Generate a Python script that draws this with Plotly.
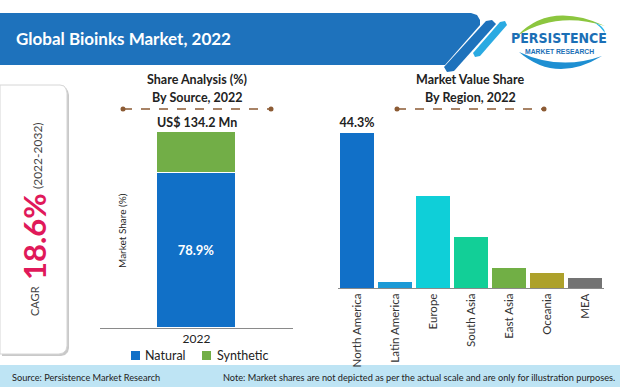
import plotly.graph_objects as go

W, H = 620, 387

# ---------------- data ----------------
source_year = ["2022"]
source_names = ["Natural", "Synthetic"]
source_shares = [78.9, 21.1]
source_colors = ["#1170C7", "#72AE47"]
market_value_label = "US$ 134.2 Mn"

regions = ["North America", "Latin America", "Europe", "South Asia",
           "East Asia", "Oceania", "MEA"]
region_shares = [44.3, 1.7, 26.2, 14.7, 5.7, 4.3, 2.9]
region_colors = ["#1170C8", "#1C9AD6", "#0FCFD8", "#12CF97",
                 "#71AF45", "#ADA12B", "#737373"]

cagr_label = "CAGR"
cagr_value = "18.6%"
cagr_period = "(2022-2032)"

FONT = "Lato, Open Sans, sans-serif"


def px(x):
    return x / W


def py(y):
    return 1 - y / H


def path(points, close=True):
    s = "M " + " L ".join(f"{px(x):.5f},{py(y):.5f}" for x, y in points)
    return s + (" Z" if close else "")


fig = go.Figure()

# left: share by source (stacked)
for i, (name, val, col) in enumerate(zip(source_names, source_shares, source_colors)):
    fig.add_trace(go.Bar(
        x=source_year, y=[val], name=name,
        marker=dict(color=col, line=dict(color="white", width=1)),
        width=0.414,
        text=[f"{val}%"] if i == 0 else None,
        textposition="inside", insidetextanchor="middle",
        constraintext="none",
        textfont=dict(family=FONT, size=13, color="white", weight="bold"),
        xaxis="x", yaxis="y", showlegend=False, hoverinfo="x+y+name",
    ))

# right: market value share by region
fig.add_trace(go.Bar(
    x=regions, y=region_shares,
    marker=dict(color=region_colors, line=dict(width=0)),
    width=0.92,
    text=[f"{region_shares[0]}%"] + [""] * (len(regions) - 1),
    textposition="outside", constraintext="none", cliponaxis=False,
    textfont=dict(family=FONT, size=12.5, color="#222222", weight="bold"),
    xaxis="x2", yaxis="y2", showlegend=False,
))

shapes = []
# header banner
shapes.append(dict(type="path", xref="paper", yref="paper", layer="below",
                   path=path([(0, 13), (471, 13), (477, 15), (480, 20), (480, 25), (445, 65), (0, 65)]),
                   fillcolor="#1E72BC", line=dict(width=0)))
# diagonal stripes
shapes.append(dict(type="path", xref="paper", yref="paper", layer="below",
                   path=path([(444, 67), (486, 21), (492, 20), (496, 24), (454, 71), (447, 72)]),
                   fillcolor="#1E72BC", line=dict(width=0)))
shapes.append(dict(type="path", xref="paper", yref="paper", layer="below",
                   path=path([(473, 53), (500, 22), (505, 21), (507, 25), (480, 56), (475, 57)]),
                   fillcolor="#2AAAE2", line=dict(width=0)))
# logo swooshes
shapes.append(dict(type="path", xref="paper", yref="paper", layer="below",
                   path=f"M {px(517):.5f},{py(36):.5f} Q {px(550):.5f},{py(1):.5f} {px(605):.5f},{py(26):.5f} "
                        f"Q {px(556):.5f},{py(11):.5f} {px(517):.5f},{py(36):.5f} Z",
                   fillcolor="#8CC63F", line=dict(width=0)))
shapes.append(dict(type="path", xref="paper", yref="paper", layer="below",
                   path=f"M {px(519):.5f},{py(52):.5f} Q {px(556):.5f},{py(84):.5f} {px(602):.5f},{py(56):.5f} "
                        f"Q {px(560):.5f},{py(71):.5f} {px(519):.5f},{py(52):.5f} Z",
                   fillcolor="#1E8FD2", line=dict(width=0)))
shapes.append(dict(type="path", xref="paper", yref="paper", layer="below",
                   path=f"M {px(594):.5f},{py(22):.5f} Q {px(605):.5f},{py(27):.5f} {px(605):.5f},{py(33):.5f} "
                        f"Q {px(601):.5f},{py(27):.5f} {px(594):.5f},{py(22):.5f} Z",
                   fillcolor="#29B6E8", line=dict(width=0)))

# CAGR card (shadow + card)
card = [(0, 85), (60, 85), (64, 86), (66, 89), (67, 93), (67, 346), (66, 350), (63, 353), (59, 354), (0, 354)]
shapes.append(dict(type="path", xref="paper", yref="paper", layer="below",
                   path=path([(x + 2, y + 2) for x, y in card]),
                   fillcolor="#C9C9C9", line=dict(width=0)))
shapes.append(dict(type="path", xref="paper", yref="paper", layer="below",
                   path=path(card), fillcolor="white", line=dict(color="#D6D6D6", width=1)))

# footer band
shapes.append(dict(type="rect", xref="paper", yref="paper", layer="below",
                   x0=0, x1=1, y0=py(387), y1=py(365),
                   fillcolor="#BEE4F4", line=dict(width=0)))

# dashed separators under chart titles
DASH = "#8C5B34"
for x0, x1 in [(123, 271), (397, 544)]:
    shapes.append(dict(type="line", xref="paper", yref="paper",
                       x0=px(x0), x1=px(x1), y0=py(109), y1=py(109),
                       line=dict(color=DASH, width=1.3, dash="dash")))
    for xc in (x0, x1):
        shapes.append(dict(type="circle", xref="paper", yref="paper",
                           x0=px(xc - 2.5), x1=px(xc + 2.5), y0=py(111.5), y1=py(106.5),
                           fillcolor=DASH, line=dict(width=0)))

# manual legend squares
legend_pos = [(131, 143), (202, 215)]
for (sx, tx), col in zip(legend_pos, source_colors):
    shapes.append(dict(type="rect", xref="paper", yref="paper",
                       x0=px(sx), x1=px(sx + 9), y0=py(360), y1=py(351),
                       fillcolor=col, line=dict(width=0)))

ann = []


def A(text, x, y, size, color="#222222", bold=False, xanchor="center", angle=0, family=FONT):
    ann.append(dict(text=text, x=px(x), y=py(y), xref="paper", yref="paper",
                    xanchor=xanchor, yanchor="middle", showarrow=False, textangle=angle,
                    font=dict(family=family, size=size, color=color,
                              weight="bold" if bold else "normal")))


A("Global Bioinks Market, 2022", 14, 39, 17, "white", True, "left")
A("PERSISTENCE", 559, 38, 14, "#1B6FB6", True, family="Liberation Sans Narrow, DejaVu Sans Condensed, sans-serif")
A("MARKET RESEARCH", 559, 51, 6.8, "#1B6FB6", True, family="Liberation Sans, Arial, sans-serif")

A(cagr_label, 34, 301, 11, "#444444", angle=-90)
A(cagr_value, 34, 237, 31, "#E0195A", True, angle=-90)
A(cagr_period, 37, 156, 12, "#444444", angle=-90)

A("Share Analysis (%)", 197, 80, 12.5, bold=True)
A("By Source, 2022", 197, 97, 12.5, bold=True)
A(market_value_label, 197, 122, 12.5, bold=True)
A("Market Share (%)", 122, 231, 10, angle=-90)

A("Market Value Share", 470, 80, 12.5, bold=True)
A("By Region, 2022", 470, 97, 12.5, bold=True)

for (sx, tx), name in zip(legend_pos, source_names):
    A(name, tx, 355, 12.5, "#222222", xanchor="left")

A("Source: Persistence Market Research", 10, 377, 9.2, xanchor="left")
A("Note: Market shares are not depicted as per the actual scale and are only for illustration purposes.",
  617, 377, 9.2, xanchor="right")

fig.update_layout(
    width=W, height=H, autosize=False,
    margin=dict(l=0, r=0, t=0, b=0),
    paper_bgcolor="white", plot_bgcolor="white",
    barmode="stack", bargap=0,
    showlegend=False,
    font=dict(family=FONT, color="#222222"),
    xaxis=dict(domain=[px(100), px(293)], anchor="y", type="category",
               showline=True, linecolor="#8A8A8A", linewidth=1, ticks="",
               showgrid=False, zeroline=False, fixedrange=True,
               tickfont=dict(family=FONT, size=12, color="#222222")),
    yaxis=dict(domain=[py(328), py(132)], anchor="x", range=[0, 100],
               visible=False, fixedrange=True),
    xaxis2=dict(domain=[px(338), px(604)], anchor="y2", type="category",
                showline=True, linecolor="#8A8A8A", linewidth=1, ticks="",
                showgrid=False, zeroline=False, fixedrange=True, tickangle=-90,
                tickfont=dict(family=FONT, size=11.5, color="#333333")),
    yaxis2=dict(domain=[py(288), py(133)], anchor="x2", range=[0, 44.3],
                visible=False, fixedrange=True),
    shapes=shapes,
    annotations=ann,
)

fig.write_html(
    "out.html",
    config={"displayModeBar": False, "responsive": False},
    post_script="document.body.style.margin='0';document.body.style.padding='0';"
                "document.body.style.overflow='hidden';",
)
